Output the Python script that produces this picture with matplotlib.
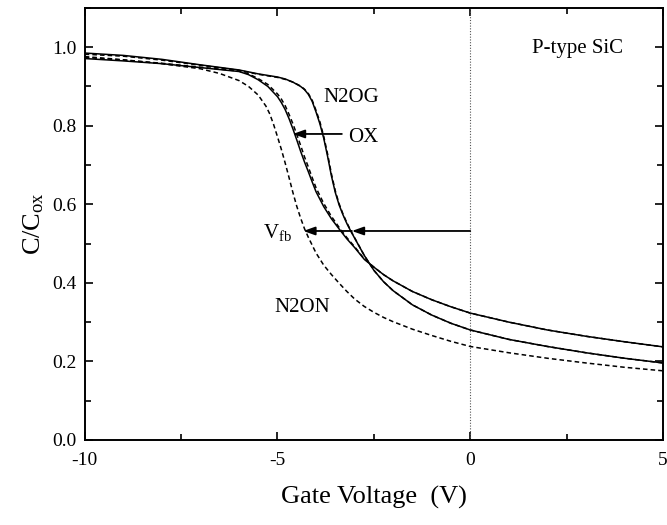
import matplotlib
matplotlib.use("Agg")
import matplotlib.pyplot as plt
from matplotlib.ticker import MultipleLocator

plt.rcParams['font.family'] = ['Liberation Serif', 'DejaVu Serif']
plt.rcParams['mathtext.fontset'] = 'custom'
plt.rcParams['mathtext.rm'] = 'Liberation Serif'
plt.rcParams['mathtext.it'] = 'Liberation Serif'

# ---- data: gate voltage (V) and C/Cox ----
v_n2og = [-10, -9, -8, -7, -6, -5.5, -5, -4.8, -4.6, -4.4, -4.3, -4.2, -4.1, -4.0,
          -3.9, -3.8, -3.7, -3.6, -3.5, -3.4, -3.3, -3.2, -3.1, -3.0, -2.75, -2.5,
          -2.25, -2.0, -1.5, -1.0, -0.5, 0, 1, 2, 3, 4, 5]
n2og = [0.985, 0.979, 0.969, 0.955, 0.942, 0.932, 0.924, 0.919, 0.911, 0.900,
        0.892, 0.880, 0.862, 0.835, 0.805, 0.768, 0.722, 0.672, 0.630, 0.598,
        0.573, 0.551, 0.532, 0.514, 0.470, 0.432, 0.403, 0.380, 0.344, 0.318,
        0.297, 0.280, 0.256, 0.238, 0.222, 0.208, 0.196]
n2og_dash = [0.982, 0.977, 0.967, 0.954, 0.941, 0.931, 0.923, 0.918, 0.911, 0.901,
             0.893, 0.882, 0.865, 0.839, 0.810, 0.773, 0.728, 0.677, 0.634, 0.601,
             0.575, 0.553, 0.533, 0.515, 0.470, 0.432, 0.403, 0.380, 0.344, 0.318,
             0.297, 0.280, 0.256, 0.238, 0.222, 0.208, 0.196]

v_ox = [-10, -9, -8, -7, -6, -5.75, -5.5, -5.25, -5.0, -4.9, -4.8, -4.7, -4.6, -4.5,
        -4.4, -4.3, -4.2, -4.1, -4.0, -3.8, -3.6, -3.4, -3.2, -3.0, -2.75, -2.5,
        -2.25, -2.0, -1.5, -1.0, -0.5, 0, 1, 2, 3, 4, 5]
ox = [0.971, 0.965, 0.958, 0.948, 0.938, 0.930, 0.917, 0.900, 0.874, 0.859,
      0.841, 0.818, 0.792, 0.764, 0.735, 0.708, 0.683, 0.657, 0.632, 0.594,
      0.563, 0.537, 0.512, 0.490, 0.460, 0.440, 0.421, 0.405, 0.378, 0.357,
      0.339, 0.323, 0.300, 0.280, 0.264, 0.250, 0.237]
ox_dash = [0.974, 0.967, 0.959, 0.949, 0.939, 0.932, 0.920, 0.905, 0.881, 0.868,
           0.851, 0.829, 0.805, 0.778, 0.750, 0.721, 0.695, 0.668, 0.642, 0.602,
           0.569, 0.541, 0.515, 0.492, 0.461, 0.440, 0.421, 0.405, 0.378, 0.357,
           0.339, 0.323, 0.300, 0.280, 0.264, 0.250, 0.237]

v_n2on = [-10, -9, -8, -7, -6.5, -6, -5.75, -5.5, -5.3, -5.2, -5.1, -5.0, -4.9, -4.8,
          -4.7, -4.6, -4.5, -4.4, -4.3, -4.2, -4.0, -3.8, -3.6, -3.4, -3.2, -3.0,
          -2.75, -2.5, -2.25, -2.0, -1.5, -1.0, -0.5, 0, 1, 2, 3, 4, 5]
n2on = [0.976, 0.968, 0.958, 0.945, 0.933, 0.915, 0.900, 0.878, 0.850, 0.830,
        0.803, 0.772, 0.740, 0.705, 0.668, 0.630, 0.595, 0.565, 0.538, 0.516,
        0.476, 0.445, 0.421, 0.399, 0.378, 0.359, 0.340, 0.325, 0.312, 0.301,
        0.282, 0.266, 0.251, 0.238, 0.222, 0.208, 0.196, 0.185, 0.176]

x_ticks = [-10, -5, 0, 5]
x_tick_labels = ['-10', '-5', '0', '5']
y_ticks = [0.0, 0.2, 0.4, 0.6, 0.8, 1.0]

fig = plt.figure(figsize=(6.67, 5.25), dpi=100)
ax = fig.add_axes([0.127, 0.162, 0.867, 0.823])

lw = 1.1
dash = (0, (3, 2))
ax.plot(v_n2og, n2og, color='black', lw=lw)
ax.plot(v_n2og, n2og_dash, color='black', lw=lw, ls=dash)
ax.plot(v_ox, ox, color='black', lw=lw)
ax.plot(v_ox, ox_dash, color='black', lw=lw, ls=dash)
ax.plot(v_n2on, n2on, color='black', lw=lw, ls=dash)

ax.axvline(0, color='#555555', lw=0.8, ls=(0, (1, 1.5)))

ax.set_xlim(-10, 5)
ax.set_ylim(0, 1.1)
ax.set_xticks(x_ticks)
ax.set_yticks(y_ticks)
ax.set_xticklabels(x_tick_labels)
ax.set_yticklabels([f'{v:.1f}' for v in y_ticks])
ax.xaxis.set_minor_locator(MultipleLocator(2.5))
ax.yaxis.set_minor_locator(MultipleLocator(0.1))
ax.tick_params(which='both', direction='in', top=True, right=True, width=1.2,
               labelsize=14)
ax.tick_params(which='major', length=6)
ax.tick_params(which='minor', length=4)
ax.tick_params(axis='x', pad=9)
ax.tick_params(axis='y', pad=6)
for s in ax.spines.values():
    s.set_linewidth(1.4)

ax.set_xlabel('Gate Voltage  (V)', fontsize=19, labelpad=12)
ax.set_ylabel(r'C/C$_{\mathrm{ox}}$', fontsize=19, labelpad=4)

# annotations
ax.text(3.96, 0.997, 'P-type SiC', fontsize=15, ha='right', va='center')
ax.text(-3.82, 0.873, 'N2OG', fontsize=15, ha='left', va='center')
ax.text(-3.17, 0.771, 'OX', fontsize=15, ha='left', va='center')
ax.text(-5.07, 0.338, 'N2ON', fontsize=15, ha='left', va='center')
ax.text(-5.38, 0.529, r'V$_{\mathrm{fb}}$', fontsize=15, ha='left', va='center')

ap = dict(arrowstyle='-|>,head_length=0.7,head_width=0.25', color='black', lw=1.3,
          shrinkA=0, shrinkB=0)
ax.annotate('', xy=(-4.6, 0.779), xytext=(-3.33, 0.779), arrowprops=ap)
ax.annotate('', xy=(-3.07, 0.532), xytext=(0, 0.532), arrowprops=ap)
ax.annotate('', xy=(-4.33, 0.532), xytext=(-3.07, 0.532), arrowprops=ap)

fig.savefig('out.png', dpi=100)
